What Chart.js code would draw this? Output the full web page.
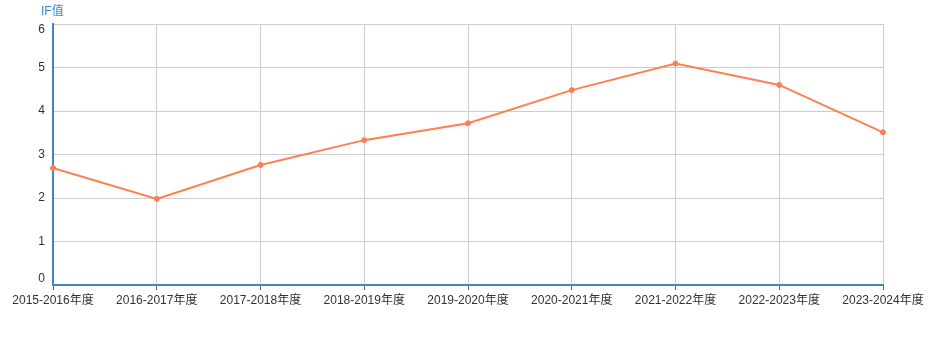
<!DOCTYPE html>
<html><head><meta charset="utf-8">
<script src="https://cdn.jsdelivr.net/npm/chart.js@4/dist/chart.umd.min.js"></script>
<style>html,body{margin:0;padding:0;background:#fff}</style>
</head><body>
<canvas id="c" width="928" height="337"></canvas>
<script>
const categories = ['2015-2016年度','2016-2017年度','2017-2018年度','2018-2019年度','2019-2020年度','2020-2021年度','2021-2022年度','2022-2023年度','2023-2024年度'];
const ifValues = [2.69, 1.98, 2.76, 3.33, 3.72, 4.48, 5.09, 4.60, 3.51];
const yTicks = [0, 1, 2, 3, 4, 5, 6];
const axisTitle = 'IF值';

const FONT = '"Liberation Sans", "Noto Sans CJK SC", sans-serif';
const AXIS_BLUE = '#3f87c4';

const yLabelPlugin = {
  id: 'yLabels',
  afterDraw(chart) {
    const ctx = chart.ctx, y = chart.scales.y;
    ctx.save();
    ctx.font = '12px ' + FONT;
    ctx.fillStyle = '#333';
    ctx.textAlign = 'right';
    yTicks.forEach(v => {
      const py = y.getPixelForValue(v);
      if (v === yTicks[yTicks.length - 1]) { ctx.textBaseline = 'top'; ctx.fillText(String(v), 45, py); }
      else if (v === yTicks[0]) { ctx.textBaseline = 'bottom'; ctx.fillText(String(v), 45, py); }
      else { ctx.textBaseline = 'middle'; ctx.fillText(String(v), 45, py); }
    });
    ctx.fillStyle = AXIS_BLUE;
    ctx.textAlign = 'left';
    ctx.textBaseline = 'middle';
    ctx.fillText(axisTitle, 41, 12);
    ctx.restore();
  }
};

new Chart(document.getElementById('c'), {
  type: 'line',
  data: {
    labels: categories,
    datasets: [{
      data: ifValues,
      borderColor: '#ff7f50',
      backgroundColor: '#ff7f50',
      borderWidth: 2,
      pointRadius: 2.5,
      pointBorderWidth: 1,
      pointHoverRadius: 2.5,
      tension: 0
    }]
  },
  options: {
    responsive: false,
    animation: false,
    layout: { padding: { top: 24, right: 45, left: 0, bottom: 0 } },
    plugins: { legend: { display: false }, tooltip: { enabled: false } },
    scales: {
      x: {
        offset: false,
        grid: { color: '#cccccc', lineWidth: 1, tickLength: 5, tickColor: '#666' },
        border: { color: AXIS_BLUE, width: 2 },
        ticks: { font: { size: 12, family: FONT }, color: '#333', maxRotation: 0, autoSkip: false, padding: 3 },
        afterFit(s) { s.height = 52; }
      },
      y: {
        min: 0, max: 6,
        grid: { color: '#cccccc', lineWidth: 1, drawTicks: false },
        border: { color: AXIS_BLUE, width: 2 },
        ticks: { display: false, stepSize: 1 },
        afterFit(s) { s.width = 53; }
      }
    }
  },
  plugins: [yLabelPlugin]
});
</script>
</body></html>
